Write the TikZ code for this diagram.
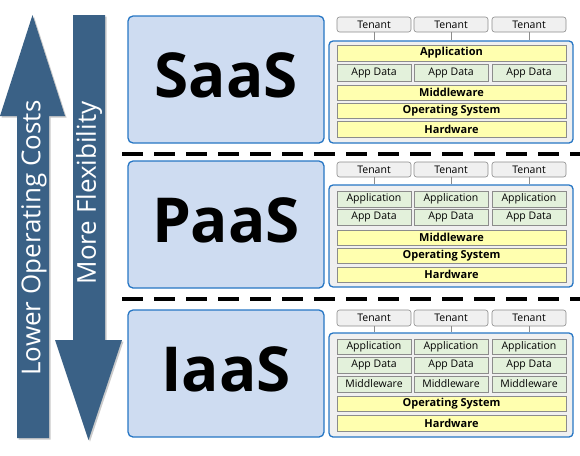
\documentclass[tikz,border=0pt]{standalone}
\usepackage{fontspec}
\setmainfont{Open Sans}
\usetikzlibrary{shadows}
\definecolor{arrowblue}{HTML}{3A6186}
\definecolor{boxblue}{HTML}{CEDCF1}
\definecolor{edgeblue}{HTML}{2676C4}
\definecolor{panelgray}{HTML}{F0F0F0}
\definecolor{rowyellow}{HTML}{FFFFAF}
\definecolor{rowgreen}{HTML}{E3F1DB}
\definecolor{rowedge}{HTML}{8C8C8C}
\tikzset{
  bigbox/.style={draw=edgeblue, fill=boxblue, line width=1.3pt, rounded corners=5pt, inner sep=0pt, text depth=8pt, font=\fontsize{62}{62}\selectfont\bfseries},
  panel/.style={draw=edgeblue, fill=panelgray, line width=1.3pt, rounded corners=4pt, inner sep=0pt},
  tenant/.style={draw=rowedge, fill=panelgray, line width=0.6pt, rounded corners=2.5pt, inner sep=0pt, font=\fontsize{10.5}{11}\selectfont},
  yellowrow/.style={draw=rowedge, fill=rowyellow, line width=0.6pt, inner sep=0pt, font=\fontsize{11}{11}\selectfont\bfseries},
  greenrow/.style={draw=rowedge, fill=rowgreen, line width=0.6pt, inner sep=0pt, font=\fontsize{10.5}{11}\selectfont},
  bigarrow/.style={fill=arrowblue, drop shadow={shadow xshift=1.5pt, shadow yshift=-1.5pt, fill=black!35, opacity=0.6}},
  arrowtext/.style={text=white, rotate=90, font=\fontsize{26}{26}\selectfont},
  sepline/.style={line width=3.4pt, dash pattern=on 21pt off 11pt},
  tline/.style={draw=rowedge, line width=0.6pt}
}
% box from corners: name, x1, y1, x2, y2, style, text
\newcommand{\boxat}[7]{%
  \node[#6, minimum width={(#4-#2)*1pt}, minimum height={(#5-#3)*1pt}] (#1) at ({(#2+#4)/2},{(#3+#5)/2}) {#7};}
\begin{document}
\begin{tikzpicture}[x=1pt, y=-1pt]
\useasboundingbox (0,0) rectangle (580,455);
% arrows
\fill[bigarrow] (17,438) -- (17,116) -- (0,116) -- (32.5,15) -- (65,116) -- (49,116) -- (49,438) -- cycle;
\fill[bigarrow] (73,15) -- (73,340) -- (55,340) -- (88.5,440) -- (122,340) -- (105,340) -- (105,15) -- cycle;
\node[arrowtext] (lower) at (34,238) {Lower Operating Costs};
\node[arrowtext] (flex) at (89,193) {More Flexibility};
% separators
\draw[sepline] (122,154) -- (580,154);
\draw[sepline] (122,299) -- (580,299);
% big boxes
\boxat{saas}{128}{16}{324}{143}{bigbox}{SaaS}
\boxat{paas}{128}{161}{324}{288}{bigbox}{PaaS}
\boxat{iaas}{128}{310}{324}{437}{bigbox}{IaaS}
% ---------- SaaS panel
\boxat{sp}{329}{41}{573}{143}{panel}{}
\boxat{st1}{337}{17}{411}{32}{tenant}{Tenant}
\boxat{st2}{414}{17}{488}{32}{tenant}{Tenant}
\boxat{st3}{492}{17}{566}{32}{tenant}{Tenant}
\foreach \t in {st1,st2,st3} \draw[tline] (\t.south) -- (\t.south |- sp.north);
\boxat{sapp}{337}{45}{566}{61}{yellowrow}{Application}
\boxat{sd1}{337}{64}{411}{81}{greenrow}{App Data}
\boxat{sd2}{414}{64}{488}{81}{greenrow}{App Data}
\boxat{sd3}{492}{64}{566}{81}{greenrow}{App Data}
\boxat{smw}{337}{85}{566}{100}{yellowrow}{Middleware}
\boxat{sos}{337}{103}{566}{118}{yellowrow}{Operating System}
\boxat{shw}{337}{121}{566}{137}{yellowrow}{Hardware}
% ---------- PaaS panel
\boxat{pp}{329}{185}{573}{287}{panel}{}
\boxat{pt1}{337}{162}{411}{177}{tenant}{Tenant}
\boxat{pt2}{414}{162}{488}{177}{tenant}{Tenant}
\boxat{pt3}{492}{162}{566}{177}{tenant}{Tenant}
\foreach \t in {pt1,pt2,pt3} \draw[tline] (\t.south) -- (\t.south |- pp.north);
\boxat{pa1}{337}{191}{411}{207}{greenrow}{Application}
\boxat{pa2}{414}{191}{488}{207}{greenrow}{Application}
\boxat{pa3}{492}{191}{566}{207}{greenrow}{Application}
\boxat{pd1}{337}{209}{411}{225}{greenrow}{App Data}
\boxat{pd2}{414}{209}{488}{225}{greenrow}{App Data}
\boxat{pd3}{492}{209}{566}{225}{greenrow}{App Data}
\boxat{pmw}{337}{230}{566}{245}{yellowrow}{Middleware}
\boxat{pos}{337}{248}{566}{263}{yellowrow}{Operating System}
\boxat{phw}{337}{267}{566}{282}{yellowrow}{Hardware}
% ---------- IaaS panel
\boxat{ip}{329}{333}{573}{437}{panel}{}
\boxat{it1}{337}{310}{411}{326}{tenant}{Tenant}
\boxat{it2}{414}{310}{488}{326}{tenant}{Tenant}
\boxat{it3}{492}{310}{566}{326}{tenant}{Tenant}
\foreach \t in {it1,it2,it3} \draw[tline] (\t.south) -- (\t.south |- ip.north);
\boxat{ia1}{337}{339}{411}{354}{greenrow}{Application}
\boxat{ia2}{414}{339}{488}{354}{greenrow}{Application}
\boxat{ia3}{492}{339}{566}{354}{greenrow}{Application}
\boxat{id1}{337}{357}{411}{373}{greenrow}{App Data}
\boxat{id2}{414}{357}{488}{373}{greenrow}{App Data}
\boxat{id3}{492}{357}{566}{373}{greenrow}{App Data}
\boxat{im1}{337}{376}{411}{392}{greenrow}{Middleware}
\boxat{im2}{414}{376}{488}{392}{greenrow}{Middleware}
\boxat{im3}{492}{376}{566}{392}{greenrow}{Middleware}
\boxat{ios}{337}{396}{566}{411}{yellowrow}{Operating System}
\boxat{ihw}{337}{415}{566}{431}{yellowrow}{Hardware}
\end{tikzpicture}
\end{document}
